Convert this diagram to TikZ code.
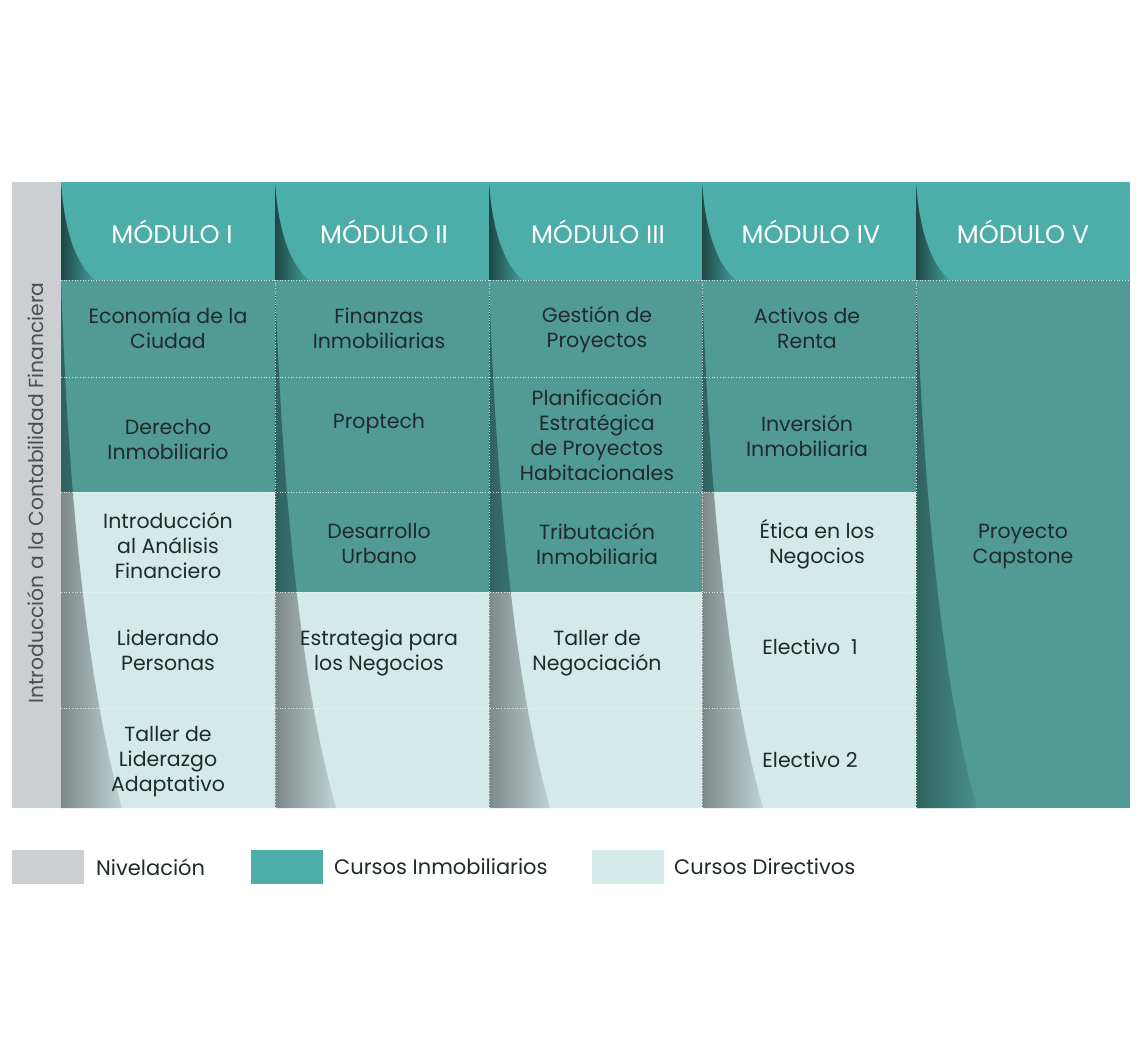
\documentclass[tikz,border=0pt]{standalone}
\usepackage{fontspec}
\setmainfont{Poppins}
\definecolor{gry}{HTML}{CCCFD2}
\definecolor{hdr}{HTML}{4DADA9}
\definecolor{drk}{HTML}{529A96}
\definecolor{lgt}{HTML}{D3EAE9}
\definecolor{txt}{HTML}{1F2B2B}
\definecolor{vtxt}{HTML}{4A4F52}
\definecolor{hdrd}{HTML}{1E4645}
\definecolor{hdrs}{HTML}{42A09C}
\definecolor{drkd}{HTML}{2E6260}
\definecolor{drks}{HTML}{48908C}
\definecolor{lgtd}{HTML}{7D8989}
\definecolor{lgts}{HTML}{BDD3D2}
\newcommand\colshade[2]{%
 \begin{scope}\clip (#1,182) rectangle (#1+100,280);
  \shade[left color=hdrd, right color=hdrs] (#1,182) .. controls (#1+3,228) and (#1+14,264) .. (#1+34,280) -- (#1,280) -- cycle;
 \end{scope}
 \begin{scope}\clip (#1,280) rectangle (#1+100,#2);
  \shade[left color=drkd, right color=drks] (#1,280) .. controls (#1+8,520) and (#1+30,700) .. (#1+61,808) -- (#1,808) -- cycle;
 \end{scope}
 \begin{scope}\clip (#1,#2) rectangle (#1+100,808);
  \shade[left color=lgtd, right color=lgts] (#1,280) .. controls (#1+8,520) and (#1+30,700) .. (#1+61,808) -- (#1,808) -- cycle;
 \end{scope}}
\begin{document}
\begin{tikzpicture}[x=1pt,y=-1pt,
  cell/.style={text=txt,font=\fontsize{20.5}{25}\selectfont,align=center,inner sep=0pt},
  head/.style={text=white,font=\fontsize{25.5}{28}\selectfont,inner sep=0pt},
  leg/.style={text=txt,font=\fontsize{21}{24}\selectfont,anchor=west,inner sep=0pt},
  sep/.style={white,dotted,line width=0.7pt,opacity=0.75}]
\useasboundingbox (0,0) rectangle (1140,1064);
% left column
\fill[gry] (12,182) rectangle (61,808);
\node[rotate=90,text=vtxt,font=\fontsize{20.3}{24}\selectfont,inner sep=0pt] (niv) at (36,493) {Introducción a la Contabilidad Financiera};
% headers
\fill[hdr] (61,182) rectangle (1130,280);
% body
\fill[drk] (61,280) rectangle (275,492);
\fill[lgt] (61,492) rectangle (275,808);
\fill[drk] (275,280) rectangle (489,592);
\fill[lgt] (275,592) rectangle (489,808);
\fill[drk] (489,280) rectangle (702,592);
\fill[lgt] (489,592) rectangle (702,808);
\fill[drk] (702,280) rectangle (916,492);
\fill[lgt] (702,492) rectangle (916,808);
\fill[drk] (916,280) rectangle (1130,808);
% shadows
\colshade{61}{492}
\colshade{275}{592}
\colshade{489}{592}
\colshade{702}{492}
\colshade{916}{808}
% separators
\draw[sep] (61,280) -- (1130,280);
\draw[sep] (61,377) -- (916,377);
\draw[sep] (61,492) -- (916,492);
\draw[sep] (61,592) -- (916,592);
\draw[sep] (61,708) -- (916,708);
\draw[sep] (275,280) -- (275,808);
\draw[sep] (489,280) -- (489,808);
\draw[sep] (702,280) -- (702,808);
\draw[sep] (916,280) -- (916,808);
\draw[sep] (1130,280) -- (1130,808);
% header text
\node[head] (h1) at (172,232) {MÓDULO I};
\node[head] (h2) at (384,232) {MÓDULO II};
\node[head] (h3) at (598,232) {MÓDULO III};
\node[head] (h4) at (811,232) {MÓDULO IV};
\node[head] (h5) at (1023,232) {MÓDULO V};
% column 1
\node[cell] (c11) at (168,328) {Economía de la\\Ciudad};
\node[cell] (c12) at (168,440) {Derecho\\Inmobiliario};
\node[cell] (c13) at (168,546) {Introducción\\al Análisis\\Financiero};
\node[cell] (c14) at (168,650) {Liderando\\Personas};
\node[cell] (c15) at (168,762) {Taller de\\Liderazgo\\Adaptativo};
% column 2
\node[cell] (c21) at (379,328) {Finanzas\\Inmobiliarias};
\node[cell] (c22) at (379,424) {Proptech};
\node[cell] (c23) at (379,544) {Desarrollo\\Urbano};
\node[cell] (c24) at (379,653) {Estrategia para\\los Negocios};
% column 3
\node[cell] (c31) at (597,330) {Gestión de\\Proyectos};
\node[cell] (c32) at (597,435) {Planificación\\Estratégica\\de Proyectos\\Habitacionales};
\node[cell] (c33) at (597,544) {Tributación\\Inmobiliaria};
\node[cell] (c34) at (597,653) {Taller de\\Negociación};
% column 4
\node[cell] (c41) at (807,328) {Activos de\\Renta};
\node[cell] (c42) at (807,436) {Inversión\\Inmobiliaria};
\node[cell] (c43) at (817,544) {Ética en los\\Negocios};
\node[cell] (c44) at (810,647) {Electivo\ \ 1};
\node[cell] (c45) at (810,760) {Electivo 2};
% column 5
\node[cell] (c51) at (1023,547) {Proyecto\\Capstone};
% legend
\fill[gry] (12,850) rectangle (84,884);
\node[leg] (l1) at (96,867) {Nivelación};
\fill[hdr] (251,850) rectangle (323,884);
\node[leg] (l2) at (334,867) {Cursos Inmobiliarios};
\fill[lgt] (592,850) rectangle (664,884);
\node[leg] (l3) at (674,867) {Cursos Directivos};
\end{tikzpicture}
\end{document}
